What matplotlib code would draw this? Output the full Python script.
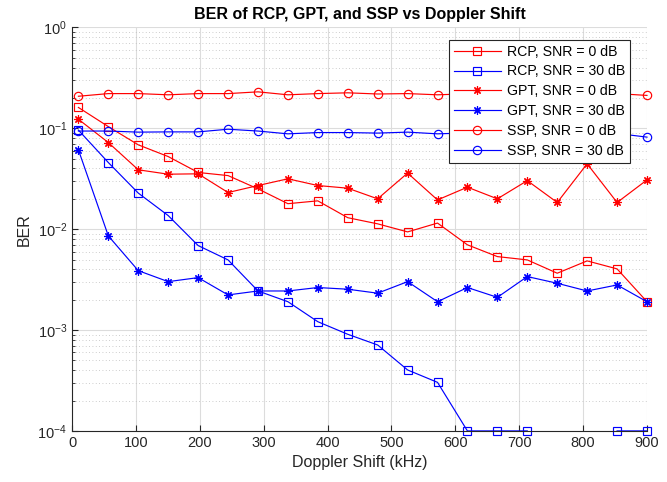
import numpy as np
import matplotlib
matplotlib.use("Agg")
import matplotlib.pyplot as plt
from matplotlib.ticker import LogLocator, NullFormatter

plt.rcParams['font.family'] = ['Liberation Sans', 'DejaVu Sans']

# Doppler shift (kHz)
doppler = [10, 56.8, 103.7, 150.5, 197.4, 244.2, 291.1, 337.9, 384.7, 431.6,
           478.4, 525.3, 572.1, 618.9, 665.8, 712.6, 759.5, 806.3, 853.2, 900]

rcp_0 = [0.161, 0.104, 0.0686, 0.0525, 0.0365, 0.0340, 0.0251, 0.0179, 0.0191, 0.0130,
         0.0113, 0.0094, 0.0115, 0.0070, 0.00535, 0.00496, 0.00366, 0.00485, 0.00404, 0.00191]
rcp_30 = [0.096, 0.0458, 0.0228, 0.01365, 0.00688, 0.00496, 0.00244, 0.00191, 0.00121, 0.000908,
          0.000711, 0.000402, 0.000303, 0.0001, 0.0001, 0.0001, np.nan, np.nan, 0.0001, 0.0001]
gpt_0 = [0.123, 0.0723, 0.0388, 0.0351, 0.0354, 0.0231, 0.0271, 0.0316, 0.0271, 0.0255,
         0.0200, 0.0360, 0.0195, 0.0261, 0.0200, 0.0303, 0.0184, 0.0445, 0.0184, 0.0308]
gpt_30 = [0.0612, 0.00858, 0.00388, 0.00302, 0.00331, 0.00223, 0.00244, 0.00244, 0.00264, 0.00254,
          0.00232, 0.00302, 0.00191, 0.00264, 0.00211, 0.00339, 0.00291, 0.00244, 0.00280, 0.00191]
ssp_0 = [0.208, 0.221, 0.221, 0.215, 0.221, 0.221, 0.230, 0.215, 0.221, 0.225,
         0.219, 0.221, 0.215, 0.220, 0.221, 0.219, 0.222, 0.220, 0.221, 0.212]
ssp_30 = [0.094, 0.094, 0.0917, 0.0922, 0.0922, 0.098, 0.094, 0.0882, 0.0908, 0.0908,
          0.0897, 0.0917, 0.0882, 0.090, 0.091, 0.089, 0.090, 0.091, 0.089, 0.0818]

fig = plt.figure(figsize=(6.67, 4.82), dpi=100)
ax = fig.add_axes([0.108, 0.106, 0.862, 0.837])

red = '#ff0000'
blue = '#0000ff'
star = (8, 2, 0)
common = dict(linewidth=0.85, markeredgewidth=0.85, fillstyle='none', clip_on=False)

ax.semilogy(doppler, rcp_0, color=red, marker='s', markersize=5.2, label='RCP, SNR = 0 dB', **common)
ax.semilogy(doppler, rcp_30, color=blue, marker='s', markersize=5.2, label='RCP, SNR = 30 dB', **common)
ax.semilogy(doppler, gpt_0, color=red, marker=star, markersize=6, label='GPT, SNR = 0 dB', **common)
ax.semilogy(doppler, gpt_30, color=blue, marker=star, markersize=6, label='GPT, SNR = 30 dB', **common)
ax.semilogy(doppler, ssp_0, color=red, marker='o', markersize=6, label='SSP, SNR = 0 dB', **common)
ax.semilogy(doppler, ssp_30, color=blue, marker='o', markersize=6, label='SSP, SNR = 30 dB', **common)

ax.set_xlim(0, 900)
ax.set_ylim(1e-4, 1)
ax.set_xticks(range(0, 901, 100))
ax.yaxis.set_major_locator(LogLocator(base=10, numticks=10))
ax.yaxis.set_minor_locator(LogLocator(base=10, subs=np.arange(2, 10), numticks=10))
ax.yaxis.set_minor_formatter(NullFormatter())

ax.grid(True, which='major', color='#dcdcdc', linewidth=0.8)
ax.grid(True, which='minor', axis='y', color='#bdbdbd', linestyle=(0, (1, 3)), linewidth=0.6)
ax.set_axisbelow(True)

for s in ['top', 'right']:
    ax.spines[s].set_visible(False)
for s in ['left', 'bottom']:
    ax.spines[s].set_color('#262626')
    ax.spines[s].set_linewidth(0.8)

ax.tick_params(which='both', direction='in', colors='#262626', labelsize=10.5, top=False, right=False)
ax.tick_params(which='major', length=4)
ax.tick_params(which='minor', length=2.5)

ax.set_xlabel('Doppler Shift (kHz)', fontsize=11.5, color='#262626')
ax.set_ylabel('BER', fontsize=11.5, color='#262626')
ax.set_title('BER of RCP, GPT, and SSP vs Doppler Shift', fontsize=11.5, fontweight='bold', pad=6)

leg = ax.legend(loc='upper right', bbox_to_anchor=(0.97, 0.97), fontsize=10.2,
                fancybox=False, framealpha=1, edgecolor='#262626', handlelength=3.3,
                borderpad=0.35, labelspacing=0.42, handletextpad=0.4, borderaxespad=0)
leg.get_frame().set_linewidth(0.8)

fig.savefig('out.png', dpi=100)
